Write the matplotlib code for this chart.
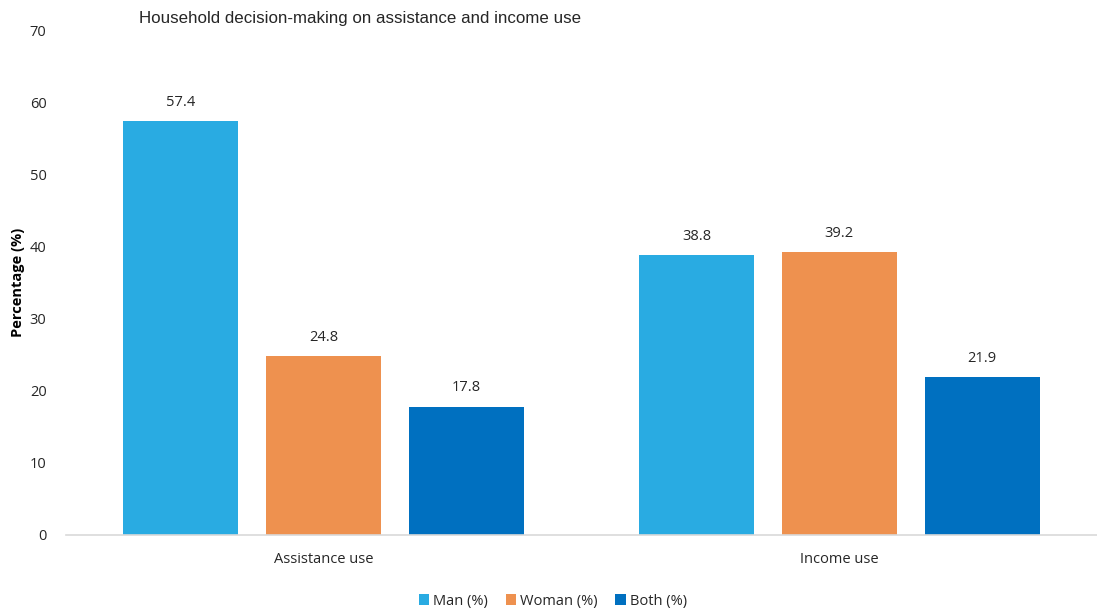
import matplotlib
matplotlib.use("Agg")
import matplotlib.pyplot as plt
import numpy as np

categories = ["Assistance use", "Income use"]
series_names = ["Man (%)", "Woman (%)", "Both (%)"]
man = [57.4, 38.8]
woman = [24.8, 39.2]
both = [17.8, 21.9]
colors = ["#29ABE2", "#EE914F", "#0070C0"]
yticks = [0, 10, 20, 30, 40, 50, 60, 70]

plt.rcParams['font.family'] = ['Open Sans', 'DejaVu Sans']

fig = plt.figure(figsize=(10.97, 6.10), dpi=100)
ax = fig.add_axes([66/1097, (610-535)/610, 1 - 66/1097, (535-30)/610])

x = np.arange(len(categories))
width = 0.223
offsets = [-0.277, 0.0, 0.277]
for vals, name, col, off in zip([man, woman, both], series_names, colors, offsets):
    bars = ax.bar(x + off, vals, width, color=col, label=name, zorder=2)
    for b, v in zip(bars, vals):
        ax.annotate(f"{v:.1f}", (b.get_x() + b.get_width()/2, v),
                    xytext=(0, 8), textcoords="offset points",
                    ha="center", va="bottom", fontsize=10.5, color="#262626")

ax.set_xlim(-0.5, 1.5)
ax.set_ylim(0, 70)
ax.set_yticks(yticks)
ax.set_xticks(x)
ax.set_xticklabels(categories)
ax.tick_params(axis="both", length=0, labelsize=10.5, colors="#262626")
ax.tick_params(axis="y", pad=14)
ax.tick_params(axis="x", pad=12.5)
for s in ["top", "right", "left"]:
    ax.spines[s].set_visible(False)
ax.spines["bottom"].set_color("#D9D9D9")
ax.spines["bottom"].set_linewidth(1.2)

ax.set_ylabel("Percentage (%)", fontsize=10.5, fontweight="bold", color="#000000")
ax.yaxis.set_label_coords(-41/1031, 0.5)

fig.text(139/1097, 1 - 19/610, "Household decision-making on assistance and income use",
         fontsize=12.2, family="Liberation Sans", color="#262626", ha="left", va="center")

fig.legend(loc="center", bbox_to_anchor=(553/1097, 1 - 601/610), ncol=3, frameon=False,
           fontsize=10.5, handlelength=0.7, handleheight=0.7, handletextpad=0.3,
           columnspacing=1.2, labelcolor="#262626")

fig.savefig("out.png", dpi=100)
